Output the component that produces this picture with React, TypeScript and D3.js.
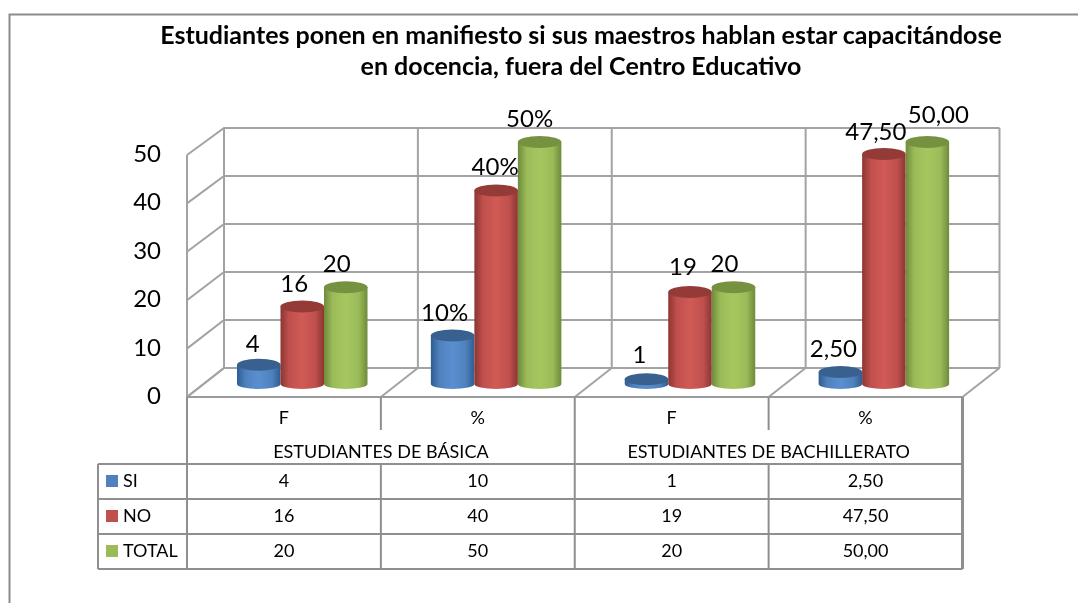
import React from "react";
import * as d3 from "d3";

const groups = ["ESTUDIANTES DE BÁSICA", "ESTUDIANTES DE BACHILLERATO"];
const categories = ["F", "%", "F", "%"];
const seriesNames = ["SI", "NO", "TOTAL"];
const siValues = [4, 10, 1, 2.5];
const noValues = [16, 40, 19, 47.5];
const totalValues = [20, 50, 20, 50];
const siTable = ["4", "10", "1", "2,50"];
const noTable = ["16", "40", "19", "47,50"];
const totalTable = ["20", "50", "20", "50,00"];
const siLabels = ["4", "10%", "1", "2,50"];
const noLabels = ["16", "40%", "19", "47,50"];
const totalLabels = ["20", "50%", "20", "50,00"];
const yTicks = [0, 10, 20, 30, 40, 50];
const titleLines = [
  "Estudiantes ponen en manifiesto si sus maestros hablan estar capacitándose",
  "en docencia, fuera del Centro Educativo",
];
const colors = [
  { id: "si", mid: "#4f81bd", light: "#5a8fd0", dark: "#2f5d92", top: "#38618f" },
  { id: "no", mid: "#c0504d", light: "#d05a56", dark: "#8c3532", top: "#943a37" },
  { id: "total", mid: "#9bbb59", light: "#a6c75f", dark: "#6f8a3c", top: "#76913f" },
];

const GRID = "#a3a3a3";
const FONT = "Lato, Carlito, 'Open Sans', sans-serif";

export default function App() {
  const frontLeft = 187;
  const frontRight = 962.5;
  const dx = 37;
  const xFront = d3.scaleBand<number>().domain(d3.range(categories.length)).range([frontLeft, frontRight]);
  const yFront = d3.scaleLinear().domain([0, 50]).range([397, 155]);
  const yBack = d3.scaleLinear().domain([0, 50]).range([368, 128]);
  const yBar = d3.scaleLinear().domain([0, 50]).range([384, 142]);
  const cw = xFront.bandwidth();
  const barW = 43.5;
  const barOffset = 50;
  const ry = 6;
  const series = [siValues, noValues, totalValues];
  const labels = [siLabels, noLabels, totalLabels];
  const tables = [siTable, noTable, totalTable];
  const rowY = d3.scaleBand<number>().domain([0, 1, 2]).range([464, 569]);
  const tableLeft = 98;
  const labelOffsets = [
    [[-6, -13], [-8, -15], [-7, -16], [-7, -15]],
    [[-8, -15], [-1, -15], [-7, -17], [-8, -14]],
    [[-9, -15], [-10, -15], [-9, -15], [11, -19]],
  ];

  const backX = (i: number) => frontLeft + dx + i * cw;

  return (
    <svg
      width={1078}
      height={603}
      style={{ position: "absolute", left: 0, top: 0, background: "#fff", filter: "blur(0.4px)" }}
      fontFamily={FONT}
    >
      <defs>
        {colors.map((c) => (
          <linearGradient key={c.id} id={`g-${c.id}`} x1="0" x2="1" y1="0" y2="0">
            <stop offset="0" stopColor={c.dark} />
            <stop offset="0.2" stopColor={c.mid} />
            <stop offset="0.5" stopColor={c.light} />
            <stop offset="0.8" stopColor={c.mid} />
            <stop offset="1" stopColor={c.dark} />
          </linearGradient>
        ))}
      </defs>

      {/* outer border, open at the right and at the bottom */}
      <path d="M9.5,603V14.5H1078" fill="none" stroke="#8c8c8c" strokeWidth={2} />

      {titleLines.map((t, i) => (
        <text key={i} x={581} y={44 + i * 31} textAnchor="middle" fontSize={25} fontWeight={700} fill="#000">
          {t}
        </text>
      ))}

      {/* floor */}
      <path
        d={`M${frontLeft},${yFront(0)}L${frontRight},${yFront(0)}L${frontRight + dx},${yBack(0)}L${frontLeft + dx},${yBack(0)}Z`}
        fill="#fff"
      />
      {/* walls */}
      <g stroke={GRID} strokeWidth={2} fill="none">
        {yTicks.map((t) => (
          <path key={t} d={`M${frontLeft},${yFront(t)}L${frontLeft + dx},${yBack(t)}H${frontRight + dx}`} />
        ))}
        {d3.range(categories.length + 1).map((i) => (
          <path key={i} d={`M${backX(i)},${yBack(50)}V${yBack(0)}`} />
        ))}
        <path d={`M${frontLeft},${yFront(50)}V${yFront(0)}`} />
        {d3.range(categories.length + 1).map((i) => (
          <path key={i} d={`M${xFront(0)! + i * cw},${yFront(0)}L${backX(i)},${yBack(0)}`} />
        ))}
        <path d={`M${frontLeft},${yFront(0)}H${frontRight}`} stroke="#9a9a9a" />
      </g>

      {/* y axis labels */}
      {yTicks.map((t) => (
        <text key={t} x={161} y={yFront(t) + 7} textAnchor="end" fontSize={24} fill="#000">
          {t}
        </text>
      ))}

      {/* cylinders */}
      {categories.map((_, ci) => (
        <g key={ci}>
          {series.map((vals, si) => {
            const x0 = xFront(ci)! + barOffset + si * barW;
            const top = yBar(vals[ci]);
            const base = yBar(0);
            const rx = barW / 2;
            const cx = x0 + rx;
            const c = colors[si];
            return (
              <g key={si}>
                <path
                  d={`M${x0},${top}V${base}A${rx},${ry - 1},0,0,0,${x0 + barW},${base}V${top}Z`}
                  fill={`url(#g-${c.id})`}
                />
                <ellipse cx={cx} cy={top} rx={rx} ry={ry} fill={c.top} />
              </g>
            );
          })}
        </g>
      ))}

      {/* data labels */}
      {categories.map((_, ci) =>
        series.map((vals, si) => {
          const x0 = xFront(ci)! + barOffset + si * barW + barW / 2;
          const [ox, oy] = labelOffsets[si][ci];
          return (
            <text key={`${ci}-${si}`} x={x0 + ox} y={yBar(vals[ci]) + oy} textAnchor="middle" fontSize={24} fill="#000">
              {labels[si][ci]}
            </text>
          );
        })
      )}

      {/* data table */}
      <g stroke="#8f8f8f" strokeWidth={2} fill="none">
        <path d={`M${frontLeft},${yFront(0)}V569`} />
        <path d={`M${frontRight},${yFront(0)}V569`} strokeWidth={3} />
        <path d={`M${xFront(2)},${yFront(0)}V569`} />
        <path d={`M${xFront(1)},${yFront(0)}V430`} />
        <path d={`M${xFront(3)},${yFront(0)}V430`} />
        <path d={`M${xFront(1)},464V569`} />
        <path d={`M${xFront(3)},464V569`} />
        <path d={`M${tableLeft},464H${frontRight}`} />
        <path d={`M${tableLeft},${rowY(1)}H${frontRight}`} />
        <path d={`M${tableLeft},${rowY(2)}H${frontRight}`} />
        <path d={`M${tableLeft},569H${frontRight}`} />
        <path d={`M${tableLeft},464V569`} />
      </g>

      {categories.map((c, i) => (
        <text key={i} x={xFront(i)! + cw / 2} y={424} textAnchor="middle" fontSize={18} fill="#000">
          {c}
        </text>
      ))}
      {groups.map((g, i) => (
        <text key={g} x={frontLeft + cw * (2 * i + 1)} y={458} textAnchor="middle" fontSize={18} fill="#000">
          {g}
        </text>
      ))}

      {seriesNames.map((s, r) => {
        const y = rowY(r)!;
        return (
          <g key={s}>
            <rect x={106} y={y + 11} width={12} height={12} fill={colors[r].mid} />
            <text x={123} y={y + 23} fontSize={18} fill="#000">
              {s}
            </text>
            {tables[r].map((v, ci) => (
              <text key={ci} x={xFront(ci)! + cw / 2} y={y + 23} textAnchor="middle" fontSize={18} fill="#000">
                {v}
              </text>
            ))}
          </g>
        );
      })}
    </svg>
  );
}
